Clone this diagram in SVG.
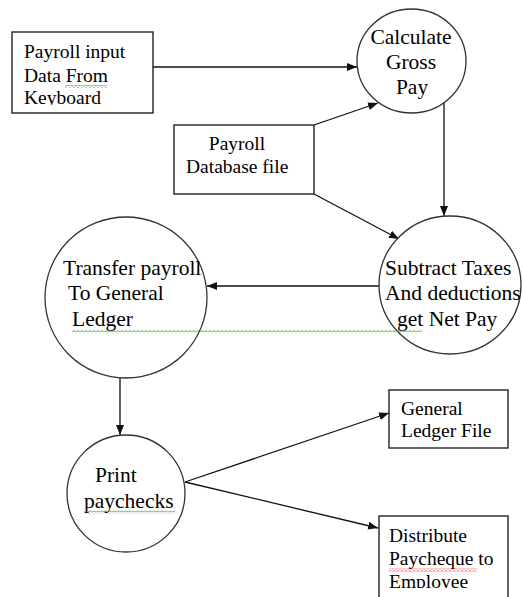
<svg xmlns="http://www.w3.org/2000/svg" width="523" height="597" viewBox="0 0 523 597">
<style>
.box{fill:#fff;stroke:#222;stroke-width:1.4}
.proc{fill:#fff;stroke:#333;stroke-width:1.3}
.t{font-family:"Liberation Serif","Times New Roman",serif;fill:#000}
.bt{font-size:19.5px}
.ct{font-size:21.5px}
.edge{stroke:#111;stroke-width:1.3;fill:none;marker-end:url(#ah)}
</style>
<defs>
<marker id="ah" viewBox="0 0 10 8" refX="10" refY="4" markerWidth="10" markerHeight="8" markerUnits="userSpaceOnUse" orient="auto">
<path d="M0,0 L10,4 L0,8 Z" fill="#111"/>
</marker>
<pattern id="wg" width="4" height="3" patternUnits="userSpaceOnUse">
<path d="M0,2.5 L2,0.5 L4,2.5" fill="none" stroke="#2a2" stroke-width="1"/>
</pattern>
<pattern id="wr" width="4" height="3" patternUnits="userSpaceOnUse">
<path d="M0,2.5 L2,0.5 L4,2.5" fill="none" stroke="#e22" stroke-width="1"/>
</pattern>
<clipPath id="clipKb"><rect x="12" y="32" width="141" height="73"/></clipPath>
<clipPath id="clipEmp"><rect x="379" y="516" width="129" height="72"/></clipPath>
</defs>

<g id="connectors">
<line class="edge" x1="153" y1="67" x2="357" y2="67"/>
<line class="edge" x1="314" y1="125" x2="378" y2="103"/>
<line class="edge" x1="314" y1="194" x2="399" y2="239"/>
<line class="edge" x1="444" y1="103" x2="444" y2="216"/>
<line class="edge" x1="379" y1="286" x2="207" y2="286"/>
<line class="edge" x1="120" y1="378" x2="120" y2="435"/>
<line class="edge" x1="185" y1="482" x2="389" y2="413"/>
<line class="edge" x1="185" y1="482" x2="378" y2="528"/>
</g>

<g id="payroll-input">
<rect class="box" x="12" y="32" width="141" height="81"/>
<g clip-path="url(#clipKb)">
<text class="t bt" x="24" y="58">Payroll input</text>
<text class="t bt" x="24" y="82">Data From</text>
<text class="t bt" x="24" y="104">Keyboard</text>
</g>
<rect x="65" y="85" width="42" height="3" fill="url(#wg)"/>
</g>

<g id="calculate-gross-pay">
<ellipse class="proc" cx="411.5" cy="61" rx="54.5" ry="52"/>
<text class="t ct" x="411" y="43.5" text-anchor="middle">Calculate</text>
<text class="t ct" x="411" y="68.5" text-anchor="middle">Gross</text>
<text class="t ct" x="412" y="93.5" text-anchor="middle">Pay</text>
</g>

<g id="payroll-database">
<rect class="box" x="174" y="125" width="140" height="69"/>
<text class="t bt" x="237" y="150" text-anchor="middle">Payroll</text>
<text class="t bt" x="186" y="173">Database file</text>
</g>

<g id="subtract-taxes">
<ellipse class="proc" cx="450" cy="285" rx="71" ry="69"/>
<text class="t ct" x="385" y="275">Subtract Taxes</text>
<text class="t ct" x="385" y="300">And deductions</text>
<text class="t ct" x="397" y="326">get Net Pay</text>
</g>

<g id="transfer-payroll">
<ellipse class="proc" cx="126" cy="297.5" rx="81" ry="80.5"/>
<text class="t ct" x="63" y="275">Transfer payroll</text>
<text class="t ct" x="68" y="300">To General</text>
<text class="t ct" x="72" y="326">Ledger</text>
<rect x="72" y="329.5" width="350" height="3" fill="url(#wg)"/>
</g>

<g id="print-paychecks">
<ellipse class="proc" cx="126" cy="493.5" rx="59" ry="58.5"/>
<text class="t ct" x="95" y="482">Print</text>
<text class="t ct" x="84" y="508">paychecks</text>
<rect x="84" y="510.5" width="91" height="3" fill="url(#wg)"/>
</g>

<g id="general-ledger-file">
<rect class="box" x="389" y="390" width="119" height="58"/>
<text class="t bt" x="401" y="415">General</text>
<text class="t bt" x="401" y="437">Ledger File</text>
</g>

<g id="distribute-paycheque">
<rect class="box" x="379" y="516" width="129" height="100"/>
<g clip-path="url(#clipEmp)">
<text class="t bt" x="389" y="542">Distribute</text>
<text class="t bt" x="389" y="565">Paycheque to</text>
<text class="t bt" x="389" y="588">Employee</text>
</g>
<rect x="389" y="568.5" width="88" height="3" fill="url(#wr)"/>
</g>
</svg>
